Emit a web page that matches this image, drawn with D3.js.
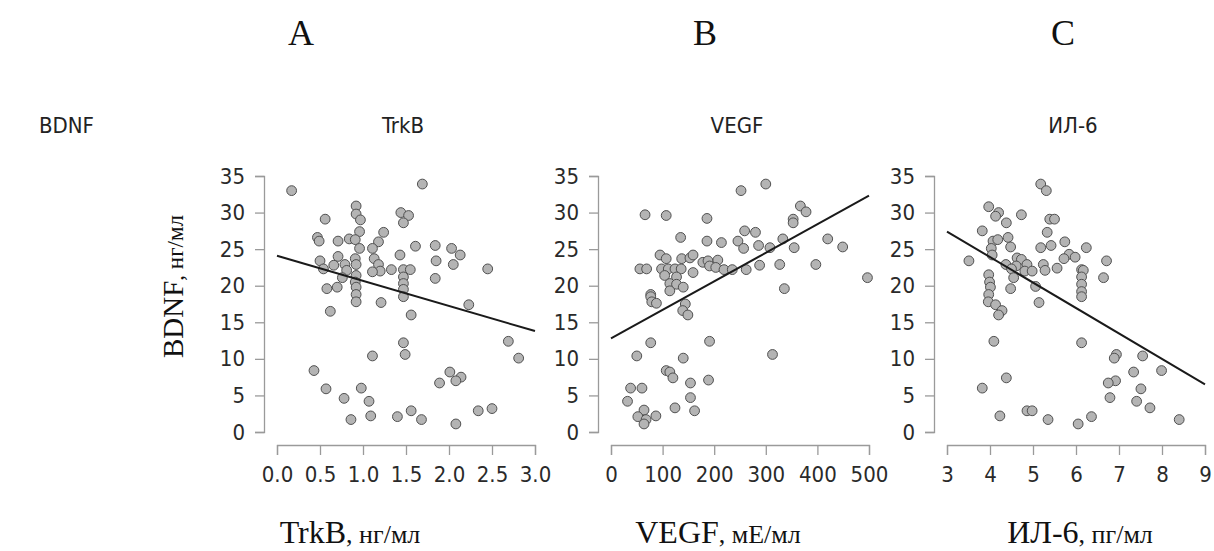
<!DOCTYPE html>
<html>
<head>
<meta charset="utf-8">
<script src="https://cdn.jsdelivr.net/npm/d3@7"></script>
<style>
  body { margin: 0; background: #fff; }
  .sans { font-family: "DejaVu Sans Condensed", "DejaVu Sans", sans-serif; font-stretch: condensed; }
  .tick text { font-family: "DejaVu Sans Condensed", "DejaVu Sans", sans-serif; font-stretch: condensed; fill: #2a2a2a; }
  .tick line, .domain { stroke: #9a9a9a; stroke-width: 1.3; }
</style>
</head>
<body>
<div class="chart"></div>
<script>
// panel labels and axis texts
const panelLetters = ["A", "B", "C"]
const panelNames = ["TrkB", "VEGF", "ИЛ-6"]
const panelUnits = [", нг/мл", ", мЕ/мл", ", пг/мл"]
const rowName = "BDNF"
const yLabelMain = "BDNF"
const yLabelUnit = ", нг/мл"

const xDomains = [[0, 3], [0, 500], [3, 9]]
const xTicks = [
  [0, 0.5, 1, 1.5, 2, 2.5, 3],
  [0, 100, 200, 300, 400, 500],
  [3, 4, 5, 6, 7, 8, 9]
]
const xTickFormats = [".1f", "d", "d"]
const yDomain = [0, 35]
const yTicks = [0, 5, 10, 15, 20, 25, 30, 35]

// [x, BDNF]
const trkbPoints = [
  [0.17, 33.0], [1.69, 33.9], [0.92, 30.9], [0.92, 29.8], [0.97, 29.0], [0.56, 29.1],
  [1.44, 30.0], [1.53, 29.6], [1.47, 28.6], [0.96, 27.4], [1.24, 27.3], [0.47, 26.6],
  [0.49, 26.1], [0.71, 26.1], [0.84, 26.4], [0.91, 26.3], [1.18, 26.0], [0.96, 25.1],
  [1.11, 25.1], [1.61, 25.4], [1.84, 25.5], [2.03, 25.1], [2.13, 24.2], [1.43, 24.2],
  [0.71, 24.0], [0.50, 23.4], [0.91, 23.7], [1.13, 23.7], [1.85, 23.4], [2.05, 22.9],
  [2.45, 22.3], [0.66, 22.8], [0.79, 22.9], [0.92, 22.9], [1.18, 22.9], [0.54, 22.3],
  [0.81, 22.1], [1.20, 22.0], [1.11, 21.9], [1.33, 22.2], [1.47, 22.2], [1.55, 22.2],
  [0.92, 21.4], [1.47, 21.2], [1.84, 21.0], [0.76, 21.1], [0.91, 20.5], [1.47, 20.3],
  [0.70, 19.8], [0.58, 19.6], [0.92, 19.8], [1.47, 19.5], [0.92, 18.8], [1.47, 18.5],
  [0.92, 17.8], [1.21, 17.7], [2.23, 17.4], [0.62, 16.5], [1.56, 16.0], [2.69, 12.4],
  [1.47, 12.2], [1.11, 10.4], [1.49, 10.6], [2.81, 10.1], [0.43, 8.4], [2.01, 8.2],
  [2.14, 7.5], [2.08, 7.0], [1.89, 6.7], [0.57, 5.9], [0.98, 6.0], [0.78, 4.6],
  [1.07, 4.2], [2.50, 3.2], [2.34, 2.9], [1.56, 2.9], [1.09, 2.2], [1.40, 2.1],
  [0.86, 1.7], [1.68, 1.7], [2.08, 1.1]
]
const vegfPoints = [
  [252, 33.0], [300, 33.9], [66, 29.7], [107, 29.6], [186, 29.2], [367, 30.9],
  [378, 30.1], [353, 29.1], [353, 28.6], [259, 27.5], [280, 27.3], [135, 26.6],
  [186, 26.1], [214, 25.9], [246, 26.1], [333, 26.4], [420, 26.4], [286, 25.5],
  [257, 25.1], [308, 25.2], [355, 25.2], [449, 25.3], [95, 24.2], [107, 23.7],
  [137, 23.7], [153, 23.8], [159, 24.2], [178, 23.2], [188, 23.4], [207, 23.5],
  [191, 22.7], [203, 22.5], [219, 22.2], [235, 22.2], [262, 22.2], [288, 22.8],
  [327, 22.9], [397, 22.9], [56, 22.3], [69, 22.3], [98, 22.3], [111, 22.3],
  [124, 22.3], [136, 22.3], [104, 21.4], [127, 21.2], [159, 21.8], [497, 21.1],
  [114, 20.3], [127, 20.2], [140, 19.8], [114, 19.3], [336, 19.6], [77, 18.8],
  [77, 18.5], [79, 17.8], [88, 17.6], [144, 17.5], [139, 16.6], [149, 16.0],
  [77, 12.2], [191, 12.4], [50, 10.4], [140, 10.1], [313, 10.6], [107, 8.4],
  [114, 8.2], [120, 7.4], [154, 6.7], [189, 7.1], [38, 6.0], [60, 6.0],
  [154, 4.7], [32, 4.2], [124, 3.3], [162, 2.9], [64, 3.0], [52, 2.1],
  [87, 2.2], [68, 1.7], [64, 1.1]
]
const il6Points = [
  [5.18, 33.9], [5.31, 33.0], [3.97, 30.8], [4.20, 30.0], [4.13, 29.5], [4.73, 29.7],
  [4.38, 28.6], [5.39, 29.1], [5.50, 29.1], [3.82, 27.5], [5.33, 27.3], [4.07, 26.1],
  [4.18, 26.3], [4.42, 26.6], [4.48, 25.3], [5.74, 26.0], [4.03, 25.1], [5.18, 25.2],
  [5.42, 25.5], [6.24, 25.2], [4.05, 24.2], [5.84, 24.3], [5.98, 23.9], [5.72, 23.7],
  [3.51, 23.4], [4.63, 23.8], [4.73, 23.6], [6.71, 23.4], [4.37, 22.9], [4.61, 22.7],
  [4.86, 22.9], [5.24, 22.9], [4.50, 22.3], [4.81, 22.0], [4.98, 22.0], [5.28, 22.1],
  [5.56, 22.4], [6.13, 22.2], [6.17, 22.1], [3.97, 21.5], [4.55, 21.1], [6.13, 21.2],
  [6.64, 21.1], [3.99, 20.5], [4.01, 19.8], [5.06, 19.9], [6.13, 20.2], [4.48, 19.6],
  [3.97, 18.8], [6.13, 19.2], [6.13, 18.5], [3.96, 17.8], [4.13, 17.4], [5.14, 17.7],
  [4.28, 16.6], [4.20, 16.0], [4.09, 12.4], [6.13, 12.2], [6.94, 10.6], [6.89, 10.1],
  [7.55, 10.4], [7.99, 8.4], [7.34, 8.2], [4.38, 7.4], [6.92, 7.0], [6.75, 6.7],
  [3.82, 6.0], [7.51, 5.9], [6.79, 4.7], [7.41, 4.2], [7.72, 3.3], [4.86, 2.9],
  [4.98, 2.9], [4.23, 2.2], [6.36, 2.1], [5.35, 1.7], [8.40, 1.7], [6.05, 1.1]
]
const panelPoints = [trkbPoints, vegfPoints, il6Points]

// regression line ends
const fitLines = [
  [[0, 24.1], [3, 13.8]],
  [[0, 12.8], [500, 32.3]],
  [[3, 27.4], [9, 6.5]]
]

const drawChart = () => {
  const dims = {
    width: 1214,
    height: 551,
    plotLefts: [277, 611, 947],
    plotWidth: 258,
    plotTop: 176,
    plotBottom: 432,
    yAxisGap: 13,
    xAxisGap: 13,
    letterX: [301, 705, 1063],
    xLabelX: [350, 718, 1080]
  }

  const svg = d3.select(".chart")
    .append("svg")
      .attr("width", dims.width)
      .attr("height", dims.height)

  const yScale = d3.scaleLinear()
    .domain(yDomain)
    .range([dims.plotBottom, dims.plotTop])

  // row label on the far left
  svg.append("text")
      .attr("class", "sans")
      .attr("x", 39)
      .attr("y", 133)
      .style("font-size", "22px")
      .style("fill", "#222")
      .text(rowName)

  // rotated y label
  const yLabel = svg.append("text")
      .attr("transform", "translate(183, 358) rotate(-90)")
      .style("font-family", "Liberation Serif, serif")
      .style("fill", "#111")
  yLabel.append("tspan").style("font-size", "29px").text(yLabelMain)
  yLabel.append("tspan").style("font-size", "23px").text(yLabelUnit)

  panelNames.forEach((name, i) => {
    const left = dims.plotLefts[i]
    const xScale = d3.scaleLinear()
      .domain(xDomains[i])
      .range([left, left + dims.plotWidth])
    const center = left + dims.plotWidth / 2

    const g = svg.append("g").attr("class", "panel")

    g.append("text")
        .attr("x", dims.letterX[i])
        .attr("y", 45)
        .attr("text-anchor", "middle")
        .style("font-family", "Liberation Serif, serif")
        .style("font-size", "36px")
        .style("fill", "#111")
        .text(panelLetters[i])

    g.append("text")
        .attr("class", "sans")
        .attr("x", center - 3)
        .attr("y", 133)
        .attr("text-anchor", "middle")
        .style("font-size", "22px")
        .style("fill", "#222")
        .text(name)

    const xAxisGenerator = d3.axisBottom(xScale)
      .tickValues(xTicks[i])
      .tickFormat(d3.format(xTickFormats[i]))
      .tickSize(10)
      .tickPadding(11)

    g.append("g")
        .attr("class", "x-axis")
        .attr("transform", `translate(0, ${dims.plotBottom + dims.xAxisGap})`)
        .call(xAxisGenerator)
        .call(a => a.selectAll(".tick text").style("font-size", "22px"))

    const yAxisGenerator = d3.axisLeft(yScale)
      .tickValues(yTicks)
      .tickSize(9)
      .tickPadding(10)

    g.append("g")
        .attr("class", "y-axis")
        .attr("transform", `translate(${left - dims.yAxisGap}, 0)`)
        .call(yAxisGenerator)
        .call(a => a.selectAll(".tick text").style("font-size", "22px"))

    g.selectAll(".dot")
      .data(panelPoints[i])
      .join("circle")
        .attr("class", "dot")
        .attr("cx", d => xScale(d[0]))
        .attr("cy", d => yScale(d[1]))
        .attr("r", 4.9)
        .attr("fill", "#b4b4b4")
        .attr("stroke", "#505050")
        .attr("stroke-width", 1)

    const lineGenerator = d3.line()
      .x(d => xScale(d[0]))
      .y(d => yScale(d[1]))

    g.append("path")
        .attr("d", lineGenerator(fitLines[i]))
        .attr("fill", "none")
        .attr("stroke", "#1a1a1a")
        .attr("stroke-width", 2)

    const xLabel = g.append("text")
        .attr("x", dims.xLabelX[i])
        .attr("y", 543)
        .attr("text-anchor", "middle")
        .style("font-family", "Liberation Serif, serif")
        .style("fill", "#111")
    xLabel.append("tspan").style("font-size", "32px").text(name)
    xLabel.append("tspan").style("font-size", "26px").text(panelUnits[i])
  })
}
drawChart()
</script>
</body>
</html>
